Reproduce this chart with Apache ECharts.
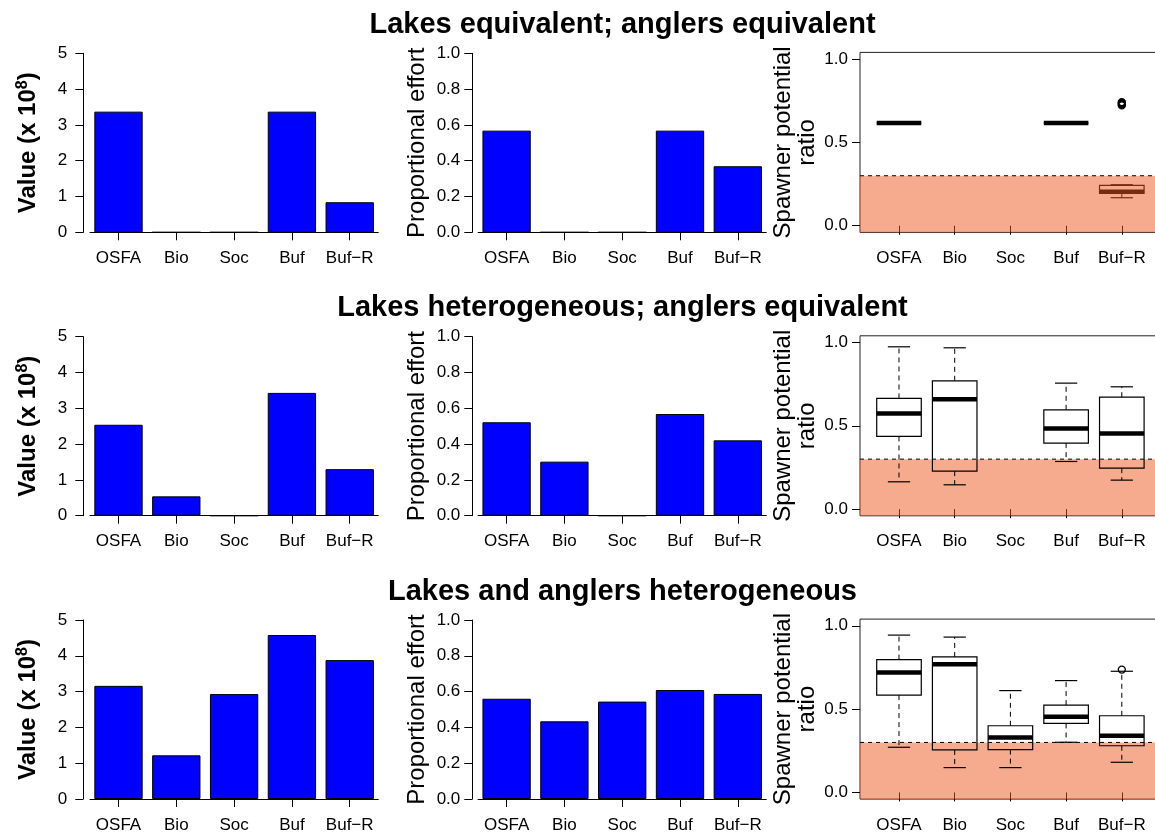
<!DOCTYPE html>
<html><head><meta charset="utf-8">
<script src="https://cdn.jsdelivr.net/npm/echarts@6/dist/echarts.min.js"></script>
<style>html,body{margin:0;padding:0;background:#fff}#c{width:1155px;height:835px}</style>
</head><body><div id="c"></div>
<script>
// ---------------- data ----------------
const categories = ['OSFA', 'Bio', 'Soc', 'Buf', 'Buf\u2212R'];
const rowTitles = [
  'Lakes equivalent; anglers equivalent',
  'Lakes heterogeneous; anglers equivalent',
  'Lakes and anglers heterogeneous'
];
// Value (x 10^8)
const valueRow1 = [3.37, 0, 0, 3.37, 0.84];
const valueRow2 = [2.54, 0.54, 0, 3.43, 1.30];
const valueRow3 = [3.16, 1.22, 2.93, 4.58, 3.88];
// Proportional effort
const effortRow1 = [0.568, 0, 0, 0.568, 0.369];
const effortRow2 = [0.522, 0.302, 0, 0.568, 0.421];
const effortRow3 = [0.560, 0.434, 0.544, 0.609, 0.587];
// Spawner potential ratio boxplots: [lower whisker, Q1, median, Q3, upper whisker] (null = none)
const sprRow1 = [[0.616, 0.616, 0.616, 0.616, 0.616], null, null, [0.616, 0.616, 0.616, 0.616, 0.616], [0.168, 0.194, 0.204, 0.242, 0.246]];
const sprRow2 = [[0.164, 0.436, 0.574, 0.664, 0.974], [0.146, 0.228, 0.660, 0.770, 0.968], null, [0.286, 0.396, 0.484, 0.596, 0.756], [0.174, 0.246, 0.454, 0.672, 0.734]];
const sprRow3 = [[0.271, 0.584, 0.719, 0.797, 0.944], [0.149, 0.255, 0.769, 0.813, 0.932], [0.149, 0.257, 0.330, 0.400, 0.611], [0.301, 0.414, 0.454, 0.524, 0.671], [0.181, 0.280, 0.340, 0.460, 0.727]];
// outliers: [category position (1-based), value]
const outRow1 = [[5, 0.722], [5, 0.727], [5, 0.732], [5, 0.737], [5, 0.742]];
const outRow2 = [];
const outRow3 = [[5, 0.737]];
const sprThreshold = 0.3;
const valueTicksMax = 5;
const effortTicksMax = 1;
const sprTicks = [0, 0.5, 1.0];
const catPositions = [1, 2, 3, 4, 5];

// ---------------- layout/style ----------------
const FONT = 'Liberation Sans, Arial, Helvetica, sans-serif';
const rowsValue = [valueRow1, valueRow2, valueRow3];
const rowsEffort = [effortRow1, effortRow2, effortRow3];
const rowsSpr = [sprRow1, sprRow2, sprRow3];
const rowsOut = [outRow1, outRow2, outRow3];
const rowTop = [53.3, 336.7, 620.0];
const titleY = [10, 293.5, 577];
const PH = 179;
const RED = 'rgba(237,85,29,0.5)';

const grids = [], xAxes = [], yAxes = [], series = [], graphics = [];
const tickLabel = { color: '#000', fontSize: 17, fontFamily: FONT };

function barX(idx) {
  return {
    type: 'category', gridIndex: idx, data: categories, offset: 2,
    axisLine: { show: false },
    axisTick: { show: true, alignWithLabel: true, length: 8, lineStyle: { color: '#000', width: 1 } },
    axisLabel: Object.assign({ margin: 15.5, interval: 0 }, tickLabel),
    splitLine: { show: false }
  };
}

function boxRender(params, api) {
  const x = api.value(0);
  const v = [api.value(1), api.value(2), api.value(3), api.value(4), api.value(5)];
  const p = v.map(val => api.coord([x, val]));
  const xc = p[0][0];
  const half = api.size([0.4, 0])[0];
  const st = half / 2;
  const dash = { stroke: '#000', lineWidth: 1, lineDash: [5, 4] };
  const solid = { stroke: '#000', lineWidth: 1.2 };
  return {
    type: 'group',
    children: [
      { type: 'line', shape: { x1: xc, y1: p[3][1], x2: xc, y2: p[4][1] }, style: dash },
      { type: 'line', shape: { x1: xc, y1: p[1][1], x2: xc, y2: p[0][1] }, style: dash },
      { type: 'line', shape: { x1: xc - st, y1: p[4][1], x2: xc + st, y2: p[4][1] }, style: solid },
      { type: 'line', shape: { x1: xc - st, y1: p[0][1], x2: xc + st, y2: p[0][1] }, style: solid },
      { type: 'rect', shape: { x: xc - half, y: p[3][1], width: 2 * half, height: p[1][1] - p[3][1] }, style: { fill: 'none', stroke: '#000', lineWidth: 1.2 } },
      { type: 'line', shape: { x1: xc - half, y1: p[2][1], x2: xc + half, y2: p[2][1] }, style: { stroke: '#000', lineWidth: 4.5 } }
    ]
  };
}

for (let r = 0; r < 3; r++) {
  const g0 = 3 * r, g1 = 3 * r + 1, g2 = 3 * r + 2;
  grids.push({ left: 89.6, top: rowTop[r], width: 289, height: PH, outerBoundsMode: 'none' });
  grids.push({ left: 477.7, top: rowTop[r], width: 289, height: PH, outerBoundsMode: 'none' });
  grids.push({ left: 860, top: rowTop[r] - 0.9, width: 300.8, height: 180, show: true, outerBoundsMode: 'none',
               borderColor: '#222', borderWidth: 1, backgroundColor: 'transparent' });

  xAxes.push(barX(g0));
  xAxes.push(barX(g1));
  xAxes.push({
    type: 'value', gridIndex: g2, min: 0.3, max: 5.7,
    axisLine: { show: false },
    axisTick: { show: true, customValues: catPositions, length: 9, lineStyle: { color: '#000' } },
    axisLabel: Object.assign({ customValues: catPositions, margin: 17.5,
      formatter: v => categories[Math.round(v) - 1] }, tickLabel),
    splitLine: { show: false }
  });

  yAxes.push({
    type: 'value', gridIndex: g0, min: 0, max: valueTicksMax, interval: 1, offset: 6.3,
    name: '{b|Value (x 10}{s|8}{b|)}', nameLocation: 'middle', nameRotate: 90, nameGap: 41,
    nameTextStyle: { rich: {
      b: { fontSize: 24, fontWeight: 'bold', fontFamily: FONT, color: '#000', lineHeight: 28 },
      s: { fontSize: 16, fontWeight: 'bold', fontFamily: FONT, color: '#000', lineHeight: 16, verticalAlign: 'top' } } },
    axisLine: { show: true, lineStyle: { color: '#000', width: 1 } },
    axisTick: { show: true, length: 8, lineStyle: { color: '#000' } },
    axisLabel: Object.assign({ margin: 16 }, tickLabel),
    splitLine: { show: false }
  });
  yAxes.push({
    type: 'value', gridIndex: g1, min: 0, max: effortTicksMax, interval: 0.2, offset: 5.4,
    name: 'Proportional effort', nameLocation: 'middle', nameRotate: 90, nameGap: 43,
    nameTextStyle: { fontSize: 24, fontFamily: FONT, color: '#000' },
    axisLine: { show: true, lineStyle: { color: '#000', width: 1 } },
    axisTick: { show: true, length: 8, lineStyle: { color: '#000' } },
    axisLabel: Object.assign({ margin: 12, formatter: v => v.toFixed(1) }, tickLabel),
    splitLine: { show: false }
  });
  yAxes.push({
    type: 'value', gridIndex: g2, min: -0.04, max: 1.04,
    name: 'Spawner potential\nratio', nameLocation: 'middle', nameRotate: 90, nameGap: 41,
    nameTextStyle: { fontSize: 24, fontFamily: FONT, color: '#000', lineHeight: 24 },
    axisLine: { show: false },
    axisTick: { show: true, customValues: sprTicks, length: 8, lineStyle: { color: '#000' } },
    axisLabel: Object.assign({ customValues: sprTicks, margin: 12, formatter: v => v.toFixed(1) }, tickLabel),
    splitLine: { show: false }
  });

  const baseline = {
    silent: true, symbol: ['none', 'none'], label: { show: false },
    lineStyle: { color: '#000', width: 1, type: 'solid' }, emphasis: { disabled: true },
    data: [{ yAxis: 0 }]
  };
  series.push({
    type: 'bar', xAxisIndex: g0, yAxisIndex: g0, data: rowsValue[r], barWidth: '83.6%',
    itemStyle: { color: '#0000FF', borderColor: '#000', borderWidth: 1 }, markLine: baseline
  });
  series.push({
    type: 'bar', xAxisIndex: g1, yAxisIndex: g1, data: rowsEffort[r], barWidth: '83.6%',
    itemStyle: { color: '#0000FF', borderColor: '#000', borderWidth: 1 }, markLine: baseline
  });
  // shaded region below threshold
  series.push({
    type: 'custom', xAxisIndex: g2, yAxisIndex: g2, z: r === 0 ? 5 : 1, silent: true,
    data: [[1, sprThreshold]],
    renderItem: (params, api) => {
      const cs = params.coordSys;
      const yT = api.coord([1, api.value(1)])[1];
      return { type: 'rect', shape: { x: cs.x, y: yT, width: cs.width, height: cs.y + cs.height - yT },
               style: { fill: RED } };
    }
  });
  // boxplots
  series.push({
    type: 'custom', xAxisIndex: g2, yAxisIndex: g2, z: 2,
    encode: { x: 0, y: [1, 2, 3, 4, 5] },
    data: rowsSpr[r].map((b, i) => b ? [i + 1].concat(b) : null).filter(Boolean),
    renderItem: boxRender
  });
  series.push({
    type: 'scatter', xAxisIndex: g2, yAxisIndex: g2, z: 3, data: rowsOut[r],
    symbol: 'circle', symbolSize: 7,
    itemStyle: { color: 'rgba(0,0,0,0)', borderColor: '#000', borderWidth: 1.3, opacity: 1 }
  });
  // dashed threshold line
  series.push({
    type: 'custom', xAxisIndex: g2, yAxisIndex: g2, z: 6, silent: true,
    data: [[1, sprThreshold]],
    renderItem: (params, api) => {
      const cs = params.coordSys;
      const yT = api.coord([1, api.value(1)])[1];
      return { type: 'line', shape: { x1: cs.x, y1: yT, x2: cs.x + cs.width, y2: yT },
               style: { stroke: '#000', lineWidth: 1, lineDash: [4, 4] } };
    }
  });

  graphics.push({
    type: 'text', x: 622.5, y: titleY[r], silent: true,
    style: { text: rowTitles[r], fontSize: 29, fontWeight: 'bold', fontFamily: FONT, fill: '#000',
             align: 'center', verticalAlign: 'top' }
  });
}

const chart = echarts.init(document.getElementById('c'), null, { renderer: 'canvas' });
chart.setOption({
  animation: false,
  backgroundColor: '#fff',
  graphic: graphics,
  grid: grids,
  xAxis: xAxes,
  yAxis: yAxes,
  series: series
});
</script>
</body></html>
